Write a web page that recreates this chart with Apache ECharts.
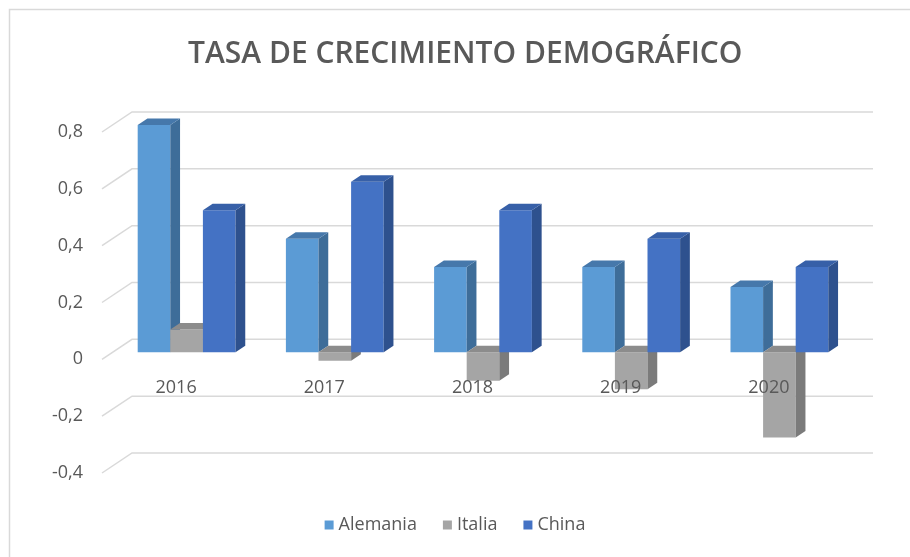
<!DOCTYPE html>
<html>
<head>
<meta charset="utf-8">
<script src="https://cdn.jsdelivr.net/npm/echarts@6/dist/echarts.min.js"></script>
<style>html,body{margin:0;padding:0;background:#fff;}#chart{width:910px;height:557px;}</style>
</head>
<body>
<div id="chart"></div>
<script>
const categories = ['2016', '2017', '2018', '2019', '2020'];
const alemania = [0.8, 0.4, 0.3, 0.3, 0.23];
const italia = [0.08, -0.03, -0.1, -0.13, -0.3];
const china = [0.5, 0.6, 0.5, 0.4, 0.3];
const yTicks = [-0.4, -0.2, 0, 0.2, 0.4, 0.6, 0.8];
const seriesNames = ['Alemania', 'Italia', 'China'];

const FONT = '"Open Sans", "Noto Sans", sans-serif';
// 3D projection offsets (styling)
const FRONT = [10.5, -7];   // bar front plane relative to label plane
const DEPTH = [9.75, -6.5]; // bar depth
const WALL = [30, -20];     // back wall relative to label plane

const palettes = [
  { front: '#5B9BD5', side: '#3E6D99', top: '#4678AB' },
  { front: '#A5A5A5', side: '#7B7B7B', top: '#8C8C8C' },
  { front: '#4472C4', side: '#2E518E', top: '#3760A8' }
];

function barSeries(name, values, idx) {
  const pal = palettes[idx];
  return {
    name: name,
    type: 'custom',
    itemStyle: { color: pal.front },
    z: 3,
    data: values.map((v, i) => [i, v]),
    renderItem: function (params, api) {
      const ci = api.value(0);
      const v = api.value(1);
      const base = api.coord([ci, 0]);
      const topP = api.coord([ci, v]);
      const band = api.size([1, 0])[0];
      const w = band * 0.22;
      const x0 = base[0] + (idx - 1.5) * w + FRONT[0];
      const x1 = x0 + w;
      const yb = base[1] + FRONT[1];
      const yt = topP[1] + FRONT[1];
      const yHigh = Math.min(yb, yt);
      const yLow = Math.max(yb, yt);
      const dx = DEPTH[0], dy = DEPTH[1];
      return {
        type: 'group',
        children: [
          { type: 'rect', shape: { x: x0, y: yHigh, width: w, height: yLow - yHigh }, style: { fill: pal.front } },
          { type: 'polygon', shape: { points: [[x1, yHigh], [x1 + dx, yHigh + dy], [x1 + dx, yLow + dy], [x1, yLow]] }, style: { fill: pal.side } },
          { type: 'polygon', shape: { points: [[x0, yHigh], [x0 + dx, yHigh + dy], [x1 + dx, yHigh + dy], [x1, yHigh]] }, style: { fill: pal.top } }
        ]
      };
    }
  };
}

const chart = echarts.init(document.getElementById('chart'), null, { renderer: 'canvas' });
chart.setOption({
  animation: false,
  backgroundColor: '#ffffff',
  title: {
    text: 'TASA DE CRECIMIENTO DEMOGRÁFICO',
    left: 183,
    top: 34,
    textStyle: { fontFamily: FONT, fontSize: 30, fontWeight: 600, color: '#595959' }
  },
  graphic: [{
    type: 'rect', silent: true, z: -10,
    shape: { x: 9.5, y: 9.5, width: 1000, height: 1000 },
    style: { fill: null, stroke: '#D9D9D9', lineWidth: 1.5 }
  }],
  legend: {
    data: seriesNames,
    bottom: 18,
    left: 'center',
    icon: 'rect',
    itemWidth: 9,
    itemHeight: 9,
    itemGap: 26,
    textStyle: { fontFamily: FONT, fontSize: 18, color: '#595959' }
  },
  grid: { left: 102, right: 67, top: 132, bottom: 84 },
  xAxis: {
    type: 'category',
    data: categories,
    z: 10,
    offset: -114,
    axisLine: { show: false, onZero: false },
    axisTick: { show: false },
    axisLabel: { margin: 20, fontFamily: FONT, fontSize: 18, color: '#595959' },
    splitLine: { show: false }
  },
  yAxis: {
    type: 'value',
    min: -0.4,
    max: 0.8,
    interval: 0.2,
    axisLine: { show: false },
    axisTick: { show: false },
    splitLine: { show: false },
    axisLabel: {
      margin: 19,
      fontFamily: FONT, fontSize: 18, color: '#595959',
      formatter: v => (Math.round(v * 10) / 10).toString().replace('.', ',')
    }
  },
  series: [
    {
      type: 'custom',
      name: 'grid',
      silent: true,
      z: 1,
      data: yTicks.map(t => [0, t]),
      renderItem: function (params, api) {
        const cs = params.coordSys;
        const y = api.coord([0, api.value(1)])[1];
        const xl = cs.x, xr = cs.x + cs.width;
        return {
          type: 'polyline',
          shape: { points: [[xl, y], [xl + WALL[0], y + WALL[1]], [xr + WALL[0], y + WALL[1]]] },
          style: { stroke: '#D9D9D9', lineWidth: 1.5, fill: null }
        };
      }
    },
    barSeries('Alemania', alemania, 0),
    barSeries('Italia', italia, 1),
    barSeries('China', china, 2)
  ]
});
</script>
</body>
</html>
